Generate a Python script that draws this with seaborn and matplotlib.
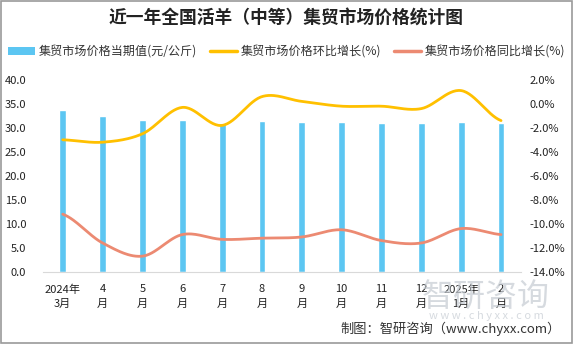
import numpy as np
import pandas as pd
import matplotlib
matplotlib.use("Agg")
import matplotlib.pyplot as plt
import seaborn as sns
from matplotlib.patches import Rectangle
from matplotlib.lines import Line2D
from matplotlib.patches import Patch

# ---- data ----
months = ["2024年\n3月", "4\n月", "5\n月", "6\n月", "7\n月", "8\n月", "9\n月",
          "10\n月", "11\n月", "12\n月", "2025年\n1月", "2\n月"]
price = [33.7, 32.5, 31.7, 31.7, 31.1, 31.4, 31.3, 31.3, 31.1, 31.1, 31.3, 30.9]
mom = [-3.0, -3.2, -2.5, -0.3, -1.8, 0.6, 0.2, -0.2, -0.2, -0.4, 1.1, -1.4]
yoy = [-9.2, -11.6, -12.7, -10.9, -11.3, -11.2, -11.1, -10.5, -11.4, -11.6, -10.4, -10.9]

series_names = ["集贸市场价格当期值(元/公斤)", "集贸市场价格环比增长(%)", "集贸市场价格同比增长(%)"]
left_ticks = [0, 5, 10, 15, 20, 25, 30, 35, 40]
right_ticks = [2, 0, -2, -4, -6, -8, -10, -12, -14]

BAR_C = "#5CC6F2"
YEL_C = "#FFC000"
RED_C = "#EC8A72"

sns.set_theme(style="white")
plt.rcParams["font.family"] = ["Noto Sans CJK SC", "DejaVu Sans"]
plt.rcParams["axes.unicode_minus"] = False


def smooth(y, n=30):
    """Catmull-Rom style smoothing (display only) similar to Excel smoothed lines."""
    y = np.asarray(y, float)
    x = np.arange(len(y), dtype=float)
    xs, ys = [], []
    for i in range(len(y) - 1):
        p0 = y[i - 1] if i > 0 else y[i]
        p1, p2 = y[i], y[i + 1]
        p3 = y[i + 2] if i + 2 < len(y) else y[i + 1]
        t = np.linspace(0, 1, n, endpoint=False)
        seg = 0.5 * ((2 * p1) + (-p0 + p2) * t + (2 * p0 - 5 * p1 + 4 * p2 - p3) * t ** 2
                     + (-p0 + 3 * p1 - 3 * p2 + p3) * t ** 3)
        xs.append(x[i] + t)
        ys.append(seg)
    xs.append([x[-1]])
    ys.append([y[-1]])
    return np.concatenate(xs), np.concatenate(ys)


fig = plt.figure(figsize=(5.73, 3.44), dpi=100)

# watermark (behind everything)
fig.text(486 / 573, 1 - 297 / 344, "智研咨询", ha="center", va="center", fontsize=23,
         color="#C5CBD2", alpha=0.7, zorder=0)
fig.text(486 / 573, 1 - 316 / 344, "w w w . c h y x x . c o m", ha="center", va="center",
         fontsize=8, color="#C5CBD2", alpha=0.7, zorder=0)

ax = fig.add_axes([0.0747, 0.21, 0.8345, 0.558])
ax.patch.set_alpha(0)

df = pd.DataFrame({"month": months, "price": price})
sns.barplot(data=df, x="month", y="price", ax=ax, color=BAR_C, width=0.17,
            saturation=1, order=months)
ax.set_ylim(0, 40)
ax.set_yticks(left_ticks)
ax.set_yticklabels([f"{v:.1f}" for v in left_ticks])
ax.set_xlim(-0.5, len(months) - 0.5)
ax.set_xlabel("")
ax.set_ylabel("")
ax.tick_params(axis="both", length=0, labelsize=8, colors="#222222")
ax.tick_params(axis="y", pad=12)
ax.tick_params(axis="x", pad=9)
for lbl in ax.get_xticklabels():
    lbl.set_linespacing(1.55)
for s in ["top", "right", "left"]:
    ax.spines[s].set_visible(False)
ax.spines["bottom"].set_color("#D9D9D9")
ax.spines["bottom"].set_linewidth(0.8)

ax2 = ax.twinx()
xs, ys = smooth(mom)
sns.lineplot(x=xs, y=ys, ax=ax2, color=YEL_C, linewidth=2.0, sort=False)
xs, ys = smooth(yoy)
sns.lineplot(x=xs, y=ys, ax=ax2, color=RED_C, linewidth=2.0, sort=False)
ax2.set_ylim(-14, 2)
ax2.set_yticks(right_ticks)
ax2.set_yticklabels([f"{v:.1f}%" for v in right_ticks])
ax2.tick_params(axis="y", length=0, labelsize=8, colors="#222222", pad=6)
for s in ["top", "right", "left", "bottom"]:
    ax2.spines[s].set_visible(False)
ax2.set_xlim(-0.5, len(months) - 0.5)

# title
fig.text(0.5, 1 - 19 / 344, "近一年全国活羊（中等）集贸市场价格统计图", ha="center", va="center",
         fontsize=12.8, fontweight="bold", color="#222222")

# legend
handles = [Patch(facecolor=BAR_C, edgecolor="none"),
           Line2D([0], [0], color=YEL_C, lw=2.5),
           Line2D([0], [0], color=RED_C, lw=2.5)]
fig.legend(handles, series_names, loc="center", bbox_to_anchor=(0.5, 1 - 52 / 344), ncol=3,
           frameon=False, fontsize=8.7, handlelength=2.2, handleheight=0.6, columnspacing=1.1,
           handletextpad=0.3, borderpad=0.2, borderaxespad=0, labelcolor="#333333")

# footer
fig.text(561 / 573, 1 - 329 / 344, "制图：智研咨询（www.chyxx.com）", ha="right", va="center",
         fontsize=9.5, color="#333333")

# border
fig.add_artist(Rectangle((0.001, 0.002), 0.997, 0.995, transform=fig.transFigure,
                         fill=False, edgecolor="#9A9A9A", linewidth=1.2))

fig.savefig("out.png", dpi=100)
